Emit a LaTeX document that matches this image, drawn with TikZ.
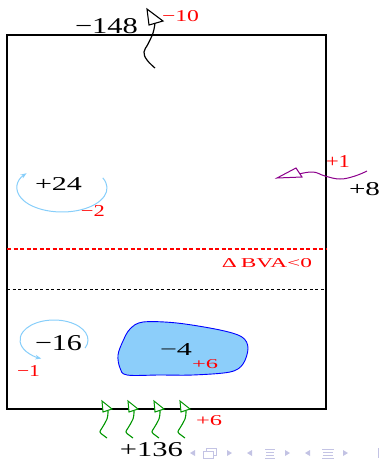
\documentclass[tikz,border=0pt]{standalone}
\usepackage{fontspec}
\setmainfont{Liberation Serif}
\usepackage{graphicx}
\usetikzlibrary{arrows.meta}
\definecolor{skyline}{RGB}{135,206,250}
\definecolor{blobfill}{RGB}{140,206,250}
\definecolor{navcol}{RGB}{195,195,228}
\definecolor{arrgreen}{RGB}{0,150,0}
\definecolor{arrpurple}{RGB}{140,0,140}
\definecolor{dashred}{RGB}{255,0,0}
\newcommand\fitt[3]{\resizebox{#1pt}{#2pt}{#3}}
\tikzset{
  lbl/.style={inner sep=0pt, outer sep=0pt, anchor=base west},
  redlbl/.style={lbl, text=red},
  wave/.style={line width=1.2pt, line join=round},
  tiphead/.style={line width=1.1pt, line join=miter, fill=white},
  swirl/.style={draw=skyline, line width=1pt, -{Stealth[length=6pt,width=4.5pt]}},
  nav/.style={fill=navcol, draw=none}
}
\begin{document}
\begin{tikzpicture}[x=1pt,y=-1pt]
\useasboundingbox (0,0) rectangle (382,459);
% main box
\draw[line width=1.3pt] (7,35) rectangle (326,409);
% dashed lines
\draw[draw=dashred, line width=1.1pt, dash pattern=on 4pt off 2.5pt] (7,249) -- (326,249);
\draw[black, line width=0.8pt, dash pattern=on 3pt off 2.5pt] (7,289) -- (326,289);
\node[redlbl] (bva) at (222,267) {\fitt{90}{9}{Δ\,BVA<0}};
% top black wavy arrow
\draw[wave] plot[smooth, tension=0.7] coordinates {(155,23) (153,33) (148,44) (144,52) (147,60) (155,68)};
\draw[tiphead] (147,9) -- (149,25) -- (163,21) -- cycle;
\node[lbl] (t148) at (75,33) {\fitt{63}{15}{−148}};
\node[redlbl] (t10) at (162,21) {\fitt{37}{11}{−10}};
% right purple wavy arrow
\draw[wave, draw=arrpurple, line width=1pt] plot[smooth, tension=0.7] coordinates {(299,174) (313,172) (325,176) (340,179) (355,176) (367,171)};
\draw[tiphead, draw=arrpurple, line width=1pt] (277,178) -- (296,168) -- (302,177) -- cycle;
\node[redlbl] (t1) at (326,167) {\fitt{24}{12}{+1}};
\node[lbl] (t8) at (349,195) {\fitt{31}{13}{+8}};
% upper swirl
\draw[swirl] (62,188) ++(-25:45 and 24) arc[start angle=-25, end angle=218, x radius=45, y radius=24];
\node[lbl] (t24) at (35,190) {\fitt{47}{13}{+24}};
\node[redlbl] (t2) at (81,216) {\fitt{24}{11}{−2}};
% lower swirl
\draw[swirl] (54,340) ++(24:34 and 20) arc[start angle=24, end angle=-248, x radius=34, y radius=20];
\node[lbl] (t16) at (35,350) {\fitt{47}{15}{−16}};
\node[redlbl] (tm1) at (17,376) {\fitt{23}{11}{−1}};
% blob
\draw[blue, line width=0.9pt, fill=blobfill] plot[smooth cycle, tension=0.55] coordinates {
 (130,329) (143,322) (177,323) (220,330) (242,337) (248,348) (243,364) (230,372) (193,375) (160,375) (127,375) (120,368) (118,355) (123,341)};
\node[lbl] (t4) at (160,355) {\fitt{32}{12}{−4}};
\node[redlbl] (t6a) at (192,368) {\fitt{26}{9}{+6}};
% bottom green arrows
\foreach \x in {102,128,154,180}{
  \draw[wave, draw=arrgreen, line width=1.1pt] plot[smooth, tension=0.7] coordinates {({\x+6},411) ({\x+5},419) ({\x},428) ({\x-2},432) ({\x+1},435) ({\x+5},438)};
  \draw[tiphead, draw=arrgreen, line width=1pt] (\x,401) -- ({\x+1},412) -- ({\x+10},409) -- cycle;
}
\node[redlbl] (t6b) at (196,425) {\fitt{26}{10}{+6}};
\node[lbl] (t136) at (120,456) {\fitt{63}{14}{+136}};
% navigation symbols
\fill[nav] (190,453) -- (195,450) -- (195,456) -- cycle;
\draw[navcol, line width=0.8pt] (206,448) rectangle (216,455);
\draw[navcol, line width=0.8pt, fill=white] (203,451) rectangle (213,458);
\fill[nav] (232,453) -- (227,450) -- (227,456) -- cycle;
\fill[nav] (247,453) -- (252,450) -- (252,456) -- cycle;
\draw[navcol, line width=1pt] (265,449) -- (275,449) (266,452) -- (274,452) (266,455) -- (274,455) (265,458) -- (275,458);
\fill[nav] (290,453) -- (285,450) -- (285,456) -- cycle;
\fill[nav] (305,453) -- (310,450) -- (310,456) -- cycle;
\draw[navcol, line width=1pt] (322,449) -- (334,449) (323,452) -- (333,452) (323,455) -- (333,455) (322,458) -- (334,458);
\fill[nav] (348,453) -- (343,450) -- (343,456) -- cycle;
\draw[navcol, line width=1pt] (378,448) -- (378,458);
\end{tikzpicture}
\end{document}
